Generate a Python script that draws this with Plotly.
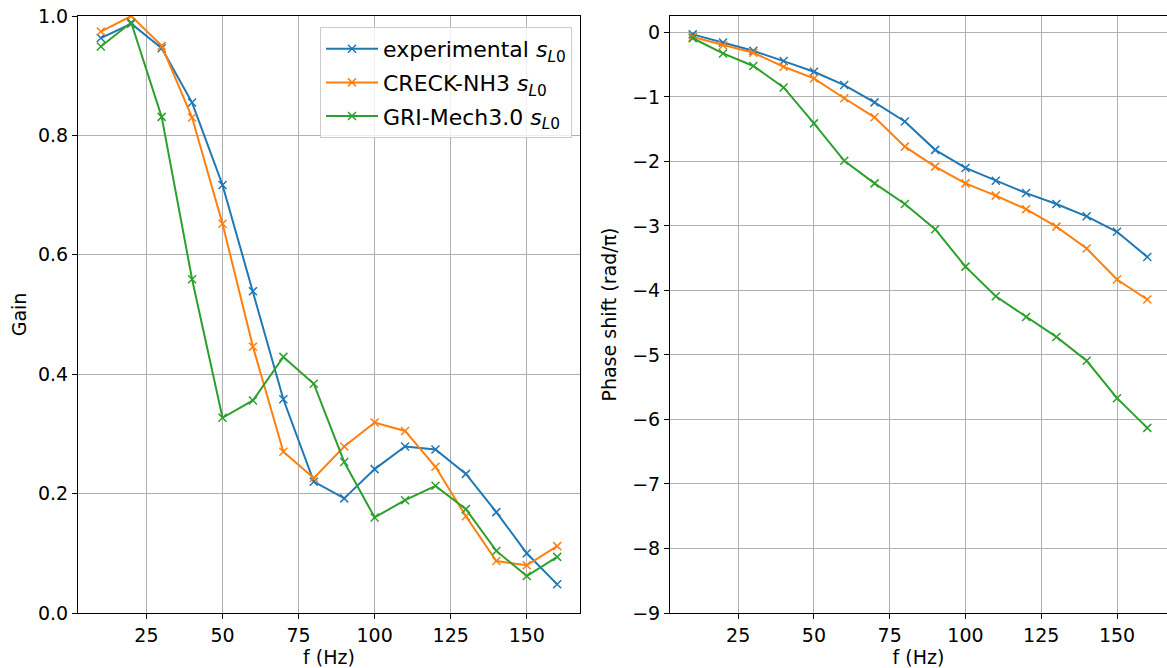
import plotly.graph_objects as go

freq = [10, 20, 30, 40, 50, 60, 70, 80, 90, 100, 110, 120, 130, 140, 150, 160]

gain_exp = [0.963, 0.987, 0.946, 0.855, 0.717, 0.539, 0.358, 0.220, 0.192, 0.241, 0.279, 0.274, 0.233, 0.169, 0.100, 0.048]
gain_creck = [0.974, 1.000, 0.950, 0.830, 0.652, 0.446, 0.270, 0.226, 0.279, 0.319, 0.305, 0.245, 0.162, 0.087, 0.080, 0.112]
gain_gri = [0.949, 0.989, 0.831, 0.559, 0.327, 0.356, 0.429, 0.384, 0.253, 0.160, 0.189, 0.213, 0.174, 0.104, 0.062, 0.094]

phase_exp = [-0.03, -0.155, -0.285, -0.444, -0.61, -0.816, -1.084, -1.38, -1.82, -2.10, -2.30, -2.49, -2.66, -2.85, -3.09, -3.48]
phase_creck = [-0.07, -0.197, -0.315, -0.532, -0.713, -1.02, -1.316, -1.77, -2.08, -2.34, -2.53, -2.74, -3.01, -3.35, -3.83, -4.14]
phase_gri = [-0.09, -0.325, -0.52, -0.852, -1.41, -1.99, -2.34, -2.66, -3.05, -3.63, -4.09, -4.41, -4.72, -5.09, -5.67, -6.13]

names = ["experimental <i>s</i><sub><i>L</i>0</sub>",
         "CRECK-NH3 <i>s</i><sub><i>L</i>0</sub>",
         "GRI-Mech3.0 <i>s</i><sub><i>L</i>0</sub>"]
colors = ["#1f77b4", "#ff7f0e", "#2ca02c"]

FONT = "DejaVu Sans"
FS = 19

fig = go.Figure()

for i, (name, col, g) in enumerate(zip(names, colors, [gain_exp, gain_creck, gain_gri])):
    fig.add_trace(go.Scatter(
        x=freq, y=g, mode="lines+markers", name=name, legendgroup=f"g{i}",
        line=dict(color=col, width=2),
        marker=dict(symbol="x-thin", size=8, color=col, line=dict(color=col, width=1.5)),
        xaxis="x", yaxis="y", showlegend=True))

for i, (name, col, p) in enumerate(zip(names, colors, [phase_exp, phase_creck, phase_gri])):
    fig.add_trace(go.Scatter(
        x=freq, y=p, mode="lines+markers", name=name, legendgroup=f"g{i}",
        line=dict(color=col, width=2),
        marker=dict(symbol="x-thin", size=8, color=col, line=dict(color=col, width=1.5)),
        xaxis="x2", yaxis="y2", showlegend=False))

ydom = [1 - 613 / 668, 1 - 16 / 668]
axis_common = dict(
    showgrid=True, gridcolor="#b0b0b0", gridwidth=1,
    showline=True, linecolor="black", linewidth=1,
    ticks="outside", ticklen=5, tickwidth=1, tickcolor="black",
    tickfont=dict(family=FONT, size=FS, color="black"),
    zeroline=False, automargin=False,
)

fig.update_layout(
    width=1167, height=668,
    margin=dict(l=0, r=0, t=0, b=0),
    paper_bgcolor="white", plot_bgcolor="white",
    font=dict(family=FONT, size=FS, color="black"),
    xaxis=dict(domain=[78 / 1167, 580 / 1167], anchor="y", range=[2.5, 167.5],
               tick0=0, dtick=25, mirror=True,
               title=dict(text="f (Hz)", font=dict(family=FONT, size=FS), standoff=4),
               **axis_common),
    yaxis=dict(domain=ydom, anchor="x", range=[0, 1.0], tick0=0, dtick=0.2,
               tickformat=".1f", mirror=True,
               title=dict(text="Gain", font=dict(family=FONT, size=FS), standoff=6),
               **axis_common),
    xaxis2=dict(domain=[670 / 1167, 1.0], anchor="y2", range=[2.5, 166.5],
                tick0=0, dtick=25, mirror=True,
                title=dict(text="f (Hz)", font=dict(family=FONT, size=FS), standoff=4),
                **axis_common),
    yaxis2=dict(domain=ydom, anchor="x2", range=[-9, 0.255], tick0=0, dtick=1,
                mirror=False,
                title=dict(text="Phase shift (rad/π)", font=dict(family=FONT, size=FS), standoff=10),
                **axis_common),
    legend=dict(x=320 / 1167, y=1 - 27 / 668, xanchor="left", yanchor="top",
                bgcolor="rgba(255,255,255,0.8)", bordercolor="#cccccc", borderwidth=1,
                font=dict(family=FONT, size=22, color="black"),
                tracegroupgap=2, itemwidth=52),
)

fig.write_html("out.html")
